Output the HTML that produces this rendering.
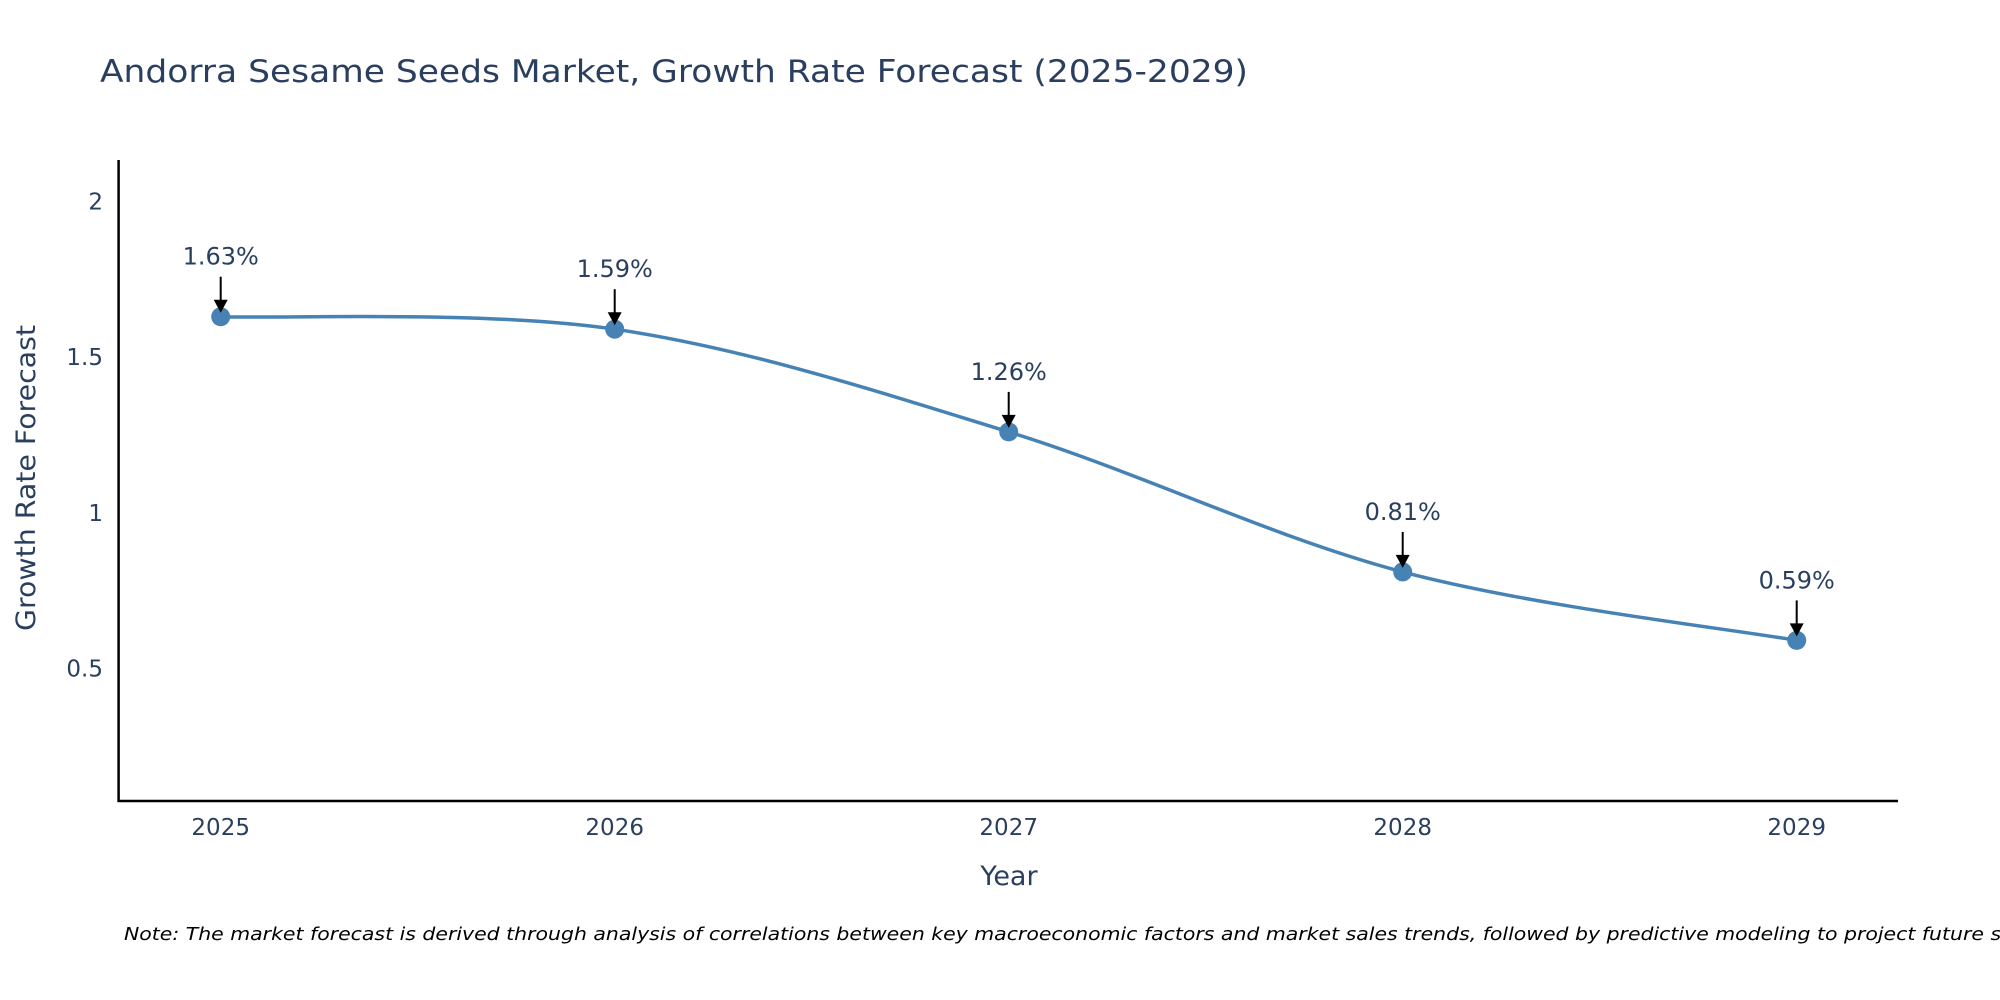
<!DOCTYPE html>
<html>
<head>
<meta charset="utf-8">
<style>
  html,body{margin:0;padding:0;background:#fff;}
  svg{display:block;}
  text{font-family:"DejaVu Sans", "Liberation Sans", sans-serif;}
</style>
</head>
<body>
<svg id="chart" width="2000" height="1000" viewBox="0 0 2000 1000" xmlns="http://www.w3.org/2000/svg">
  <text x="100" y="82" font-size="31" fill="#2a3f5f" textLength="1148" lengthAdjust="spacingAndGlyphs">Andorra Sesame Seeds Market, Growth Rate Forecast (2025-2029)</text>
  <g id="plot"></g>
  <line x1="118.6" y1="160" x2="118.6" y2="802" stroke="#000" stroke-width="2.5"/>
  <line x1="117.5" y1="801" x2="1898" y2="801" stroke="#000" stroke-width="2.5"/>
  <text x="1009" y="885" font-size="27" fill="#2a3f5f" text-anchor="middle">Year</text>
  <text x="0" y="0" font-size="27" fill="#2a3f5f" text-anchor="middle" transform="translate(35,478) rotate(-90)" textLength="306" lengthAdjust="spacingAndGlyphs">Growth Rate Forecast</text>
  <text x="124" y="940" font-size="18" font-style="italic" fill="#000" textLength="1925" lengthAdjust="spacingAndGlyphs">Note: The market forecast is derived through analysis of correlations between key macroeconomic factors and market sales trends, followed by predictive modeling to project future sales.</text>
</svg>
<script>
const years = [2025, 2026, 2027, 2028, 2029];
const growth = [1.63, 1.59, 1.26, 0.81, 0.59];
const labels = ["1.63%", "1.59%", "1.26%", "0.81%", "0.59%"];
const yTicks = [0.5, 1, 1.5, 2];
const yTickLabels = ["0.5", "1", "1.5", "2"];

const NS = "http://www.w3.org/2000/svg";
const g = document.getElementById("plot");
function xs(v){ return 220.7 + (v - 2025) * 394; }
function ys(v){ return 824 - v * 311.2; }
function mk(tag, attrs){ const e = document.createElementNS(NS, tag); for (const k in attrs) e.setAttribute(k, attrs[k]); return e; }

yTicks.forEach((t, i) => {
  const tx = mk("text", {x: 103, y: ys(t) + 8, "font-size": 23, fill: "#2a3f5f", "text-anchor": "end"});
  
  
  tx.textContent = yTickLabels[i];
  g.appendChild(tx);
});
years.forEach(yr => {
  const tx = mk("text", {x: xs(yr), y: 835, "font-size": 23, fill: "#2a3f5f", "text-anchor": "middle"});
  
  
  tx.textContent = String(yr);
  g.appendChild(tx);
});

const pts = years.map((y, i) => [xs(y), ys(growth[i])]);
let d = "M" + pts[0][0] + "," + pts[0][1];
for (let i = 0; i < pts.length - 1; i++) {
  const p0 = pts[Math.max(0, i - 1)], p1 = pts[i], p2 = pts[i + 1], p3 = pts[Math.min(pts.length - 1, i + 2)];
  const c1 = [p1[0] + (p2[0] - p0[0]) / 6, p1[1] + (p2[1] - p0[1]) / 6];
  const c2 = [p2[0] - (p3[0] - p1[0]) / 6, p2[1] - (p3[1] - p1[1]) / 6];
  d += " C" + c1[0] + "," + c1[1] + " " + c2[0] + "," + c2[1] + " " + p2[0] + "," + p2[1];
}
const line = mk("path", {d: d, fill: "none", stroke: "#4682b4", "stroke-width": 3.5});


g.appendChild(line);

pts.forEach((p, i) => {
  const c = mk("circle", {cx: p[0], cy: p[1], r: 9.5, fill: "#4682b4"});
  
  
  g.appendChild(c);
  const top = p[1] - 40, tip = p[1] - 4;
  const a = mk("line", {x1: p[0], y1: top, x2: p[0], y2: tip - 10, stroke: "#000", "stroke-width": 2});
  
  
  g.appendChild(a);
  const h = mk("polygon", {points: (p[0]-7)+","+(tip-13)+" "+(p[0]+7)+","+(tip-13)+" "+p[0]+","+tip, fill: "#000"});
  
  
  g.appendChild(h);
  const t = mk("text", {x: p[0], y: top - 12, "font-size": 24, fill: "#2a3f5f", "text-anchor": "middle"});
  
  
  t.textContent = labels[i];
  g.appendChild(t);
});
</script>
</body>
</html>
